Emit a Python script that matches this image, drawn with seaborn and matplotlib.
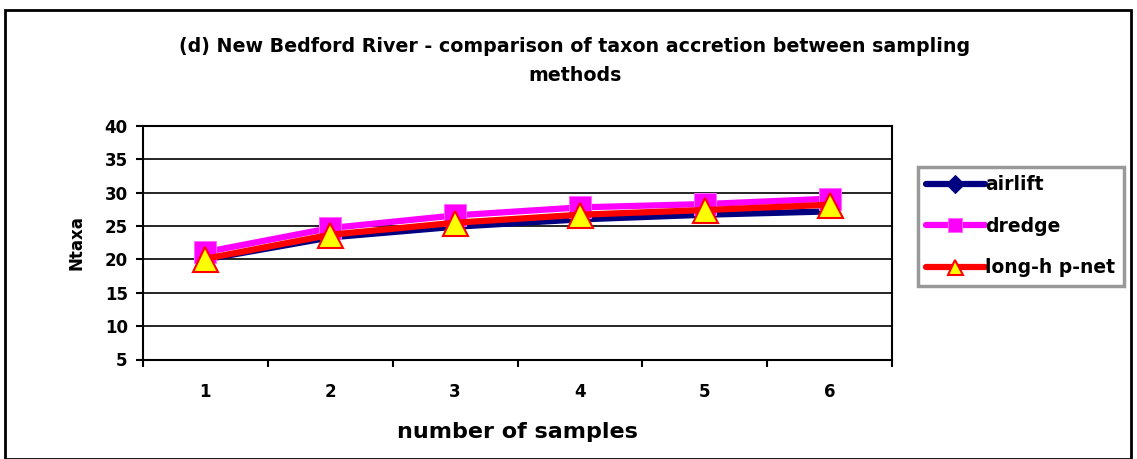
import matplotlib
matplotlib.use("Agg")
import matplotlib.pyplot as plt
import seaborn as sns
import pandas as pd
from matplotlib.patches import Rectangle

samples = [1, 2, 3, 4, 5, 6]
airlift = [20.0, 23.3, 24.9, 26.0, 26.7, 27.2]
dredge = [21.1, 24.7, 26.6, 27.8, 28.3, 29.1]
pnet = [20.1, 23.7, 25.5, 26.7, 27.4, 28.2]
series_names = ["airlift", "dredge", "long-h p-net"]
yticks = [5, 10, 15, 20, 25, 30, 35, 40]

sns.set_theme(style="white")
plt.rcParams['font.family'] = ['DejaVu Sans']
plt.rcParams['font.weight'] = 'bold'
for k in ['text.color', 'axes.labelcolor', 'xtick.color', 'ytick.color']:
    plt.rcParams[k] = 'black'

W, H = 1137, 459
fig = plt.figure(figsize=(W / 100, H / 100), dpi=100)
ax = fig.add_axes([143 / W, 1 - 359.5 / H, (892 - 143) / W, (359.5 - 126) / H])

df = pd.DataFrame({
    "x": samples * 3,
    "y": airlift + dredge + pnet,
    "series": [series_names[0]] * 6 + [series_names[1]] * 6 + [series_names[2]] * 6,
})

styles = {
    "airlift": dict(color="#000080", marker="D", markersize=7, markerfacecolor="#000080",
                    markeredgecolor="#000080", linewidth=4.5),
    "dredge": dict(color="#FF00FF", marker="s", markersize=16, markerfacecolor="#FF00FF",
                   markeredgecolor="#FF66FF", linewidth=4.5),
    "long-h p-net": dict(color="#FF0000", marker="^", markersize=18, markerfacecolor="#FFFF00",
                         markeredgecolor="#FF0000", markeredgewidth=1.5, linewidth=4.5),
}

for name in series_names:
    sub = df[df["series"] == name]
    sns.lineplot(data=sub, x="x", y="y", ax=ax, label=name, **styles[name])

ax.set_xlim(0.5, 6.5)
ax.set_ylim(5, 40)
ax.set_yticks(yticks)
ax.set_yticklabels([str(v) for v in yticks], fontsize=12, fontweight="bold")
ax.set_xticks(samples)
ax.set_xticklabels([str(v) for v in samples], fontsize=12, fontweight="bold")
ax.set_xticks([0.5 + i for i in range(7)], minor=True)
ax.tick_params(axis="x", which="major", length=0, pad=17)
ax.tick_params(axis="x", which="minor", length=5, width=1.5, color="black", direction="out", bottom=True)
ax.tick_params(axis="y", which="major", length=5, width=1.5, color="black", direction="out", left=True, pad=6)
for y in yticks:
    ax.axhline(y, color="black", linewidth=1.2, zorder=0)
for s in ax.spines.values():
    s.set_color("black")
    s.set_linewidth(1.5)
ax.set_xlabel("number of samples", fontsize=16, fontweight="bold", labelpad=15)
ax.set_ylabel("Ntaxa", fontsize=12, fontweight="bold", labelpad=14)

fig.text(575 / W, 1 - 61 / H, "(d) New Bedford River - comparison of taxon accretion between sampling\nmethods",
         ha="center", va="center", fontsize=13.7, fontweight="bold", linespacing=1.7)

leg = ax.legend(loc="upper left", bbox_to_anchor=(918 / W, 1 - 167 / H), bbox_transform=fig.transFigure,
                frameon=True, fancybox=False, shadow=False, prop={"size": 13.5, "weight": "bold"},
                handlelength=3.1, handletextpad=0.05, borderpad=0.45, labelspacing=1.2, markerscale=0.6,
                borderaxespad=0)
leg.get_frame().set_edgecolor("#808080")
leg.get_frame().set_linewidth(2.5)
leg_lines = leg.get_lines()
if leg_lines:
    leg_lines[0].set_markersize(9)

fig.patches.append(Rectangle((5 / W, 0), (1131 - 5) / W, 1 - 10 / H, transform=fig.transFigure,
                             fill=False, edgecolor="black", linewidth=2))

fig.savefig("out.png", dpi=100)
